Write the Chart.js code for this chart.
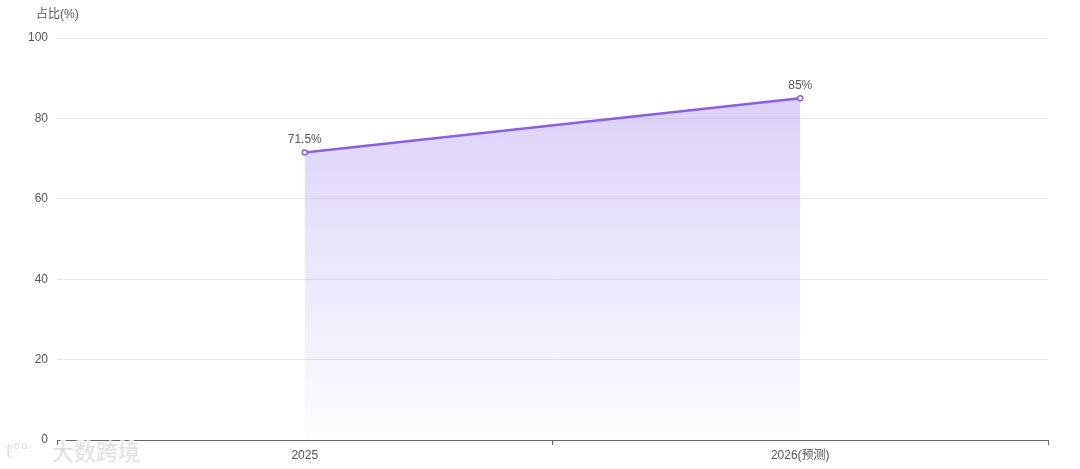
<!DOCTYPE html>
<html>
<head>
<meta charset="utf-8">
<script src="https://cdn.jsdelivr.net/npm/chart.js@4"></script>
<style>
  html, body { margin: 0; padding: 0; background: #fff; }
  #wrap { width: 1080px; height: 469px; position: relative; }
</style>
</head>
<body>
<div id="wrap"><canvas id="lineChart"></canvas></div>
<script>
  const years = ["2025", "2026(预测)"];
  const shares = [71.5, 85];
  const yTicks = [0, 20, 40, 60, 80, 100];

  const FONT = "'Liberation Sans', 'Noto Sans CJK SC', sans-serif";

  // value labels above points, axis title and watermark
  const extras = {
    id: "extras",
    afterDatasetsDraw(chart) {
      const ctx = chart.ctx;
      const meta = chart.getDatasetMeta(0);
      ctx.save();
      ctx.font = "12px " + FONT;
      ctx.fillStyle = "#555";
      ctx.textAlign = "center";
      ctx.textBaseline = "bottom";
      meta.data.forEach((pt, i) => {
        ctx.fillText(shares[i] + "%", pt.x, pt.y - 7);
      });
      ctx.restore();
    },
    afterDraw(chart) {
      const ctx = chart.ctx;
      ctx.save();
      ctx.font = "12px " + FONT;
      ctx.fillStyle = "#555";
      ctx.textAlign = "left";
      ctx.textBaseline = "middle";
      ctx.fillText("占比(%)", 36, 15);
      // watermark
      ctx.font = "22px 'Noto Sans CJK SC', sans-serif";
      ctx.lineWidth = 3;
      ctx.strokeStyle = "rgba(255,255,255,0.9)";
      ctx.fillStyle = "rgba(200,200,200,0.6)";
      ctx.strokeText("大数跨境", 52, 452);
      ctx.fillText("大数跨境", 52, 452);
      ctx.font = "20px 'Liberation Sans', sans-serif";
      ctx.strokeText("ℓ°°", 6, 452);
      ctx.fillText("ℓ°°", 6, 452);
      ctx.restore();
    }
  };

  const ctx = document.getElementById("lineChart").getContext("2d");
  new Chart(ctx, {
    type: "line",
    data: {
      labels: years,
      datasets: [
        {
          data: shares,
          borderColor: "#8a5fe0",
          borderWidth: 2.5,
          pointRadius: 2.5,
          pointBorderWidth: 1.5,
          pointBackgroundColor: "#fff",
          pointBorderColor: "#8a5fe0",
          tension: 0,
          fill: "origin",
          backgroundColor: (c) => {
            const area = c.chart.chartArea;
            if (!area) return "rgba(160,130,240,0.3)";
            const g = c.chart.ctx.createLinearGradient(0, area.top + 60, 0, area.bottom);
            g.addColorStop(0, "rgba(170,145,240,0.42)");
            g.addColorStop(1, "rgba(170,145,240,0.02)");
            return g;
          },
        },
      ],
    },
    plugins: [extras],
    options: {
      responsive: true,
      maintainAspectRatio: false,
      animation: false,
      layout: { padding: { top: 38, right: 32, left: 0, bottom: 0 } },
      plugins: { legend: { display: false }, tooltip: { enabled: false } },
      scales: {
        x: {
          offset: true,
          afterFit: (s) => { s.height = 29; },
          grid: {
            offset: true,
            drawOnChartArea: false,
            tickLength: 5,
            color: "#666",
          },
          border: { color: "#666", width: 1 },
          ticks: { color: "#555", font: { size: 12, family: FONT }, padding: 3 },
        },
        y: {
          min: 0,
          max: 100,
          afterFit: (s) => { s.width = 57; },
          afterBuildTicks: (s) => { s.ticks = yTicks.map((v) => ({ value: v })); },
          grid: { color: "#e6e6e6", drawTicks: false },
          border: { display: false },
          ticks: { color: "#555", font: { size: 12, family: FONT }, padding: 9 },
        },
      },
    },
  });
</script>
</body>
</html>
